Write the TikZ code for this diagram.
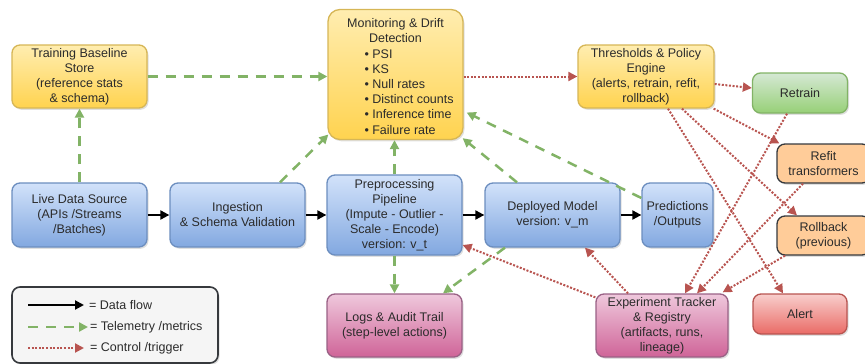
\documentclass[tikz,border=0pt]{standalone}
\usepackage{fontspec}
\setmainfont{Liberation Sans}
\usetikzlibrary{arrows.meta,shadows,calc}
\definecolor{ytop}{HTML}{FFEDB0}\definecolor{ybot}{HTML}{FFD34F}\definecolor{ystr}{HTML}{D6B656}
\definecolor{btop}{HTML}{D2E2FA}\definecolor{bbot}{HTML}{82A8E0}\definecolor{bstr}{HTML}{6C8EBF}
\definecolor{gtop}{HTML}{D5E8D4}\definecolor{gbot}{HTML}{97D077}\definecolor{gstr}{HTML}{82B366}
\definecolor{rtop}{HTML}{F8CECC}\definecolor{rbot}{HTML}{EA6B66}\definecolor{rstr}{HTML}{B85450}
\definecolor{ptop}{HTML}{EFC8DC}\definecolor{pbot}{HTML}{CF6498}\definecolor{pstr}{HTML}{996185}
\definecolor{ofill}{HTML}{FFCC99}\definecolor{ostr}{HTML}{36393D}
\definecolor{txt}{HTML}{2B2B2B}
\definecolor{telem}{HTML}{82B366}
\definecolor{ctrl}{HTML}{B85450}
\tikzset{
  box/.style={rounded corners=8pt, line width=1.3pt, align=center, inner sep=2pt,
    font=\fontsize{12.5pt}{15pt}\selectfont, text=txt,
    drop shadow={shadow xshift=1.5pt, shadow yshift=-1.8pt, opacity=0.25}},
  ybox/.style={box, draw=ystr, top color=ytop, bottom color=ybot},
  bbox/.style={box, draw=bstr, top color=btop, bottom color=bbot},
  gbox/.style={box, draw=gstr, top color=gtop, bottom color=gbot},
  rbox/.style={box, draw=rstr, top color=rtop, bottom color=rbot},
  pbox/.style={box, draw=pstr, top color=ptop, bottom color=pbot},
  obox/.style={box, draw=ostr, fill=ofill},
  dataflow/.style={line width=2pt, black, -{Triangle[length=9pt,width=9pt]}},
  telemetry/.style={line width=2.5pt, telem, dash pattern=on 10pt off 8pt, -{Triangle[length=9pt,width=9pt]}},
  control/.style={line width=2pt, ctrl, dash pattern=on 2pt off 1.6pt, -{Triangle[length=9pt,width=9pt]}},
  lgtext/.style={anchor=west, font=\fontsize{12.5pt}{15pt}\selectfont, text=txt, inner sep=0pt},
}
\newcommand{\bul}[1]{\makebox[62pt][l]{• #1}}
\begin{document}
\begin{tikzpicture}[x=1pt,y=-1pt]
\useasboundingbox (0,0) rectangle (865,364);
\clip (0,0) rectangle (865,364);
% nodes
\node[ybox, minimum width=135pt, minimum height=63pt] (train) at (79.5,76.5) {Training Baseline\\Store\\(reference stats\\\& schema)};
\node[ybox, rounded corners=12pt, minimum width=135pt, minimum height=130pt, font=\fontsize{12.5pt}{15.2pt}\selectfont] (mon) at (395.5,74.5) {\rule{0pt}{13pt}Monitoring \& Drift\\Detection\\\bul{PSI}\\\bul{KS}\\\bul{Null rates}\\\bul{Distinct counts}\\\bul{Inference time}\\\bul{Failure rate}};
\node[ybox, minimum width=136pt, minimum height=63pt] (thr) at (646,76.5) {Thresholds \& Policy\\Engine\\(alerts, retrain, refit,\\rollback)};
\node[gbox, minimum width=95pt, minimum height=40pt] (retrain) at (800,93) {Retrain};
\node[obox, minimum width=93pt, minimum height=39pt] (refit) at (823.5,163.5) {Refit\\transformers};
\node[obox, minimum width=93pt, minimum height=39pt] (rollback) at (823.5,235.5) {Rollback\\(previous)};
\node[rbox, minimum width=94pt, minimum height=40pt] (alert) at (800,314) {Alert};
\node[bbox, minimum width=135pt, minimum height=64pt] (live) at (79.5,215) {Live Data Source\\(APIs /Streams\\/Batches)};
\node[bbox, minimum width=135pt, minimum height=64pt] (ing) at (237.5,215) {Ingestion\\\& Schema Validation};
\node[bbox, minimum width=135pt, minimum height=80pt] (pre) at (394.5,215) {Preprocessing\\Pipeline\\(Impute - Outlier -\\Scale - Encode)\\version: v\_t};
\node[bbox, minimum width=135pt, minimum height=64pt] (dep) at (552.5,215) {Deployed Model\\version: v\_m};
\node[bbox, minimum width=71pt, minimum height=64pt] (pred) at (677.5,215) {Predictions\\/Outputs};
\node[pbox, minimum width=135pt, minimum height=63pt] (logs) at (394.5,325.5) {Logs \& Audit Trail\\(step-level actions)};
\node[pbox, minimum width=132pt, minimum height=63pt] (exp) at (662,325.5) {Experiment Tracker\\\& Registry\\(artifacts, runs,\\lineage)};
% legend
\node[box, draw=ostr, line width=1.6pt, fill=white!96!black, minimum width=206pt, minimum height=76pt] (legend) at (115,325) {};
\coordinate (l1a) at (28,305); \coordinate (l1b) at (84,305);
\coordinate (l2a) at (28,327); \coordinate (l2b) at (88,327);
\coordinate (l3a) at (28,348); \coordinate (l3b) at (84,348);
\node[lgtext] (l1t) at (89,305) {= Data flow};
\node[lgtext] (l2t) at (90,327) {= Telemetry /metrics};
\node[lgtext] (l3t) at (90,348) {= Control /trigger};
\draw[dataflow] (l1a) -- (l1b);
\draw[telemetry] (l2a) -- (l2b);
\draw[control] (l3a) -- (l3b);
% data flow
\draw[dataflow] (live.east) -- (ing.west);
\draw[dataflow] (ing.east) -- (pre.west);
\draw[dataflow] (pre.east) -- (dep.west);
\draw[dataflow] (dep.east) -- (pred.west);
% telemetry
\draw[telemetry] (live.north) -- (train.south);
\draw[telemetry] (train.east) -- (train.east -| mon.west);
\draw[telemetry] ([xshift=42.5pt]ing.north) -- ([xshift=1pt,yshift=-60pt]mon.west);
\draw[telemetry] (pre.north) -- (pre.north |- mon.south);
\draw[telemetry] ([xshift=-35.5pt]dep.north) -- ([xshift=-1pt,yshift=2pt]mon.south east);
\draw[telemetry] ([yshift=17pt]pred.west) -- ([xshift=3pt,yshift=-38pt]mon.east);
\draw[telemetry] (pre.south) -- (logs.north);
\draw[telemetry] ([xshift=-47.5pt]dep.south) -- ([xshift=48.5pt]logs.north);
% control
\draw[control] (thr.west -| mon.east) -- (thr.west);
\draw[control] ([yshift=-7.5pt]thr.east) -- ([yshift=5pt]retrain.west);
\draw[control] ([xshift=-1pt]thr.south east) -- ([xshift=3pt]refit.north west);
\draw[control] ([xshift=36pt]thr.south) -- ([xshift=-26.5pt]rollback.north);
\draw[control] ([xshift=22pt]thr.south) -- ([xshift=-17pt]alert.north);
\draw[control] ([xshift=-13pt]retrain.south) -- ([xshift=23pt]exp.north);
\draw[control] ([xshift=-20.5pt]refit.south) -- ([xshift=35pt]exp.north);
\draw[control] ([xshift=-38.5pt]rollback.south) -- ([xshift=-6pt,yshift=1pt]exp.north east);
\draw[control] ([xshift=-34pt]exp.north) -- ([xshift=32.5pt]dep.south);
\draw[control] ([yshift=-4pt]exp.north west) -- ([yshift=-30pt]pre.east);
\end{tikzpicture}
\end{document}
